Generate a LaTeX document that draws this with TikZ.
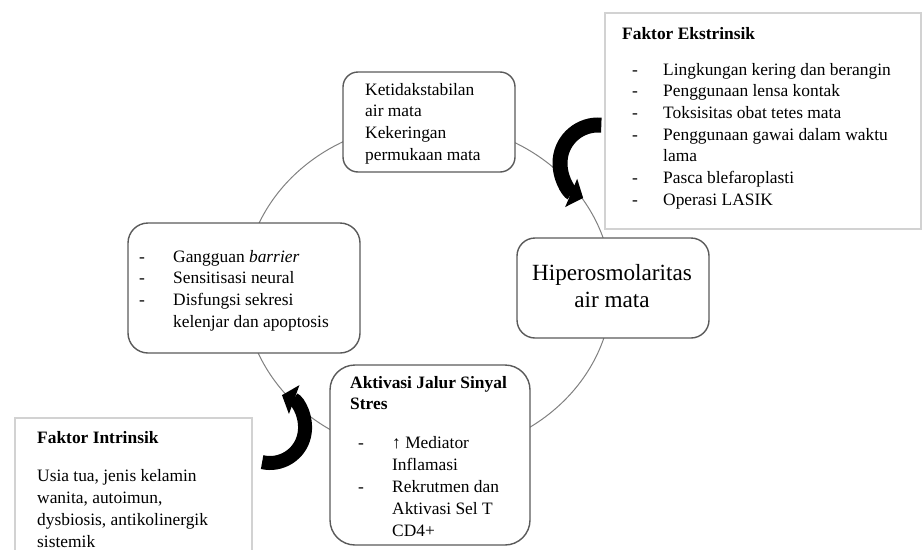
\documentclass[tikz,border=0pt]{standalone}
\usepackage{fontspec}
\setmainfont{Liberation Serif}
\usetikzlibrary{arrows.meta}
\definecolor{boxgray}{HTML}{5A5A5A}
\definecolor{cgray}{HTML}{808080}
\definecolor{lgray}{HTML}{D2D2D2}
\newcommand\tf{\fontsize{17.4}{21.7}\selectfont}
\newcommand\tfb{\fontsize{17.4}{22}\selectfont}
\newcommand\hf{\fontsize{23.2}{27}\selectfont}
\newcommand\dsh{\makebox[31pt][l]{-}}
\newcommand\dshb{\makebox[34pt][l]{-}}
\begin{document}
\begin{tikzpicture}[x=1pt,y=-1pt,
  rbox/.style={draw=boxgray, line width=1.4pt, fill=white, rounded corners=#1, inner sep=0pt},
  fbox/.style={draw=lgray, line width=1.6pt, fill=white, inner sep=0pt},
  txt/.style={inner sep=0pt, anchor=base west, font=\tf},
  ring/.style={draw=cgray, line width=1pt},
  bigarrow/.style={line width=15pt, -{Triangle[length=13pt,width=30pt]}}]
\useasboundingbox (0,0) rectangle (923,549);
% cycle ring
\draw[ring] (428,289) ellipse [x radius=184, y radius=166];
% boxes
\node[rbox=15, minimum width=172, minimum height=100] (tb) at (429,122) {};
\node[rbox=20, minimum width=232, minimum height=130] (lb) at (244,288) {};
\node[rbox=18, minimum width=192, minimum height=100] (hb) at (613,288) {};
\node[rbox=25, minimum width=200, minimum height=180] (bb) at (430,455) {};
\node[fbox, minimum width=316, minimum height=216] (eb) at (763,121) {};
\node[fbox, minimum width=237, minimum height=140] (ib) at (133.5,488) {};
% texts
\node[txt] (tt) at (365,95) {\begin{tabular}[t]{@{}l@{}}Ketidakstabilan\\air mata\\Kekeringan\\permukaan mata\end{tabular}};
\node[txt] (lt) at (139,262) {\begin{tabular}[t]{@{}l@{}}\dshb Gangguan \textit{barrier}\\\dshb Sensitisasi neural\\\dshb Disfungsi sekresi\\\hspace*{34pt}kelenjar dan apoptosis\end{tabular}};
\node[inner sep=0pt, anchor=base, font=\hf] (ht) at (612,280) {\begin{tabular}[t]{@{}c@{}}Hiperosmolaritas\\air mata\end{tabular}};
\node[txt] (btt) at (350,388) {\begin{tabular}[t]{@{}l@{}}\textbf{Aktivasi Jalur Sinyal}\\\textbf{Stres}\end{tabular}};
\node[txt, font=\tfb] (bt) at (358,448) {\begin{tabular}[t]{@{}l@{}}\makebox[34pt][l]{-}↑ Mediator\\\hspace*{34pt}Inflamasi\\\makebox[34pt][l]{-}Rekrutmen dan\\\hspace*{34pt}Aktivasi Sel T\\\hspace*{34pt}CD4+\end{tabular}};
\node[txt] (ett) at (622,39) {\textbf{Faktor Ekstrinsik}};
\node[txt] (et) at (632,75) {\begin{tabular}[t]{@{}l@{}}\dsh Lingkungan kering dan berangin\\\dsh Penggunaan lensa kontak\\\dsh Toksisitas obat tetes mata\\\dsh Penggunaan gawai dalam waktu\\\hspace*{31pt}lama\\\dsh Pasca blefaroplasti\\\dsh Operasi LASIK\end{tabular}};
\node[txt] (itt) at (37,443) {\textbf{Faktor Intrinsik}};
\node[txt, font=\tfb] (it) at (37,481) {\begin{tabular}[t]{@{}l@{}}Usia tua, jenis kelamin\\wanita, autoimun,\\dysbiosis, antikolinergik\\sistemik\end{tabular}};
% curved arrows
\coordinate (ac1) at (598,163);
\coordinate (ac2) at (270,428);
\draw[bigarrow] (ac1) ++(-85:38) arc[start angle=-85, end angle=-247, radius=38];
\draw[bigarrow, line width=14pt] (ac2) ++(103:35) arc[start angle=103, end angle=-70, radius=35];
\end{tikzpicture}
\end{document}
